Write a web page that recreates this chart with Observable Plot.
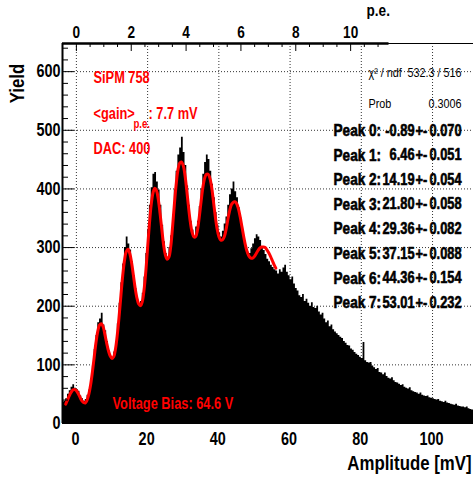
<!DOCTYPE html>
<html><head><meta charset="utf-8">
<script src="https://cdn.jsdelivr.net/npm/d3@7"></script>
<script src="https://cdn.jsdelivr.net/npm/@observablehq/plot@0.6"></script>
<style>html,body{margin:0;padding:0;background:#fff}</style>
</head><body><div id="chart"></div>
<script>
// ---- data ----
const binStart = -4.0, binWidth = 0.5;   // mV
const counts = [
 36,38,42,50,56,62,66,60,58,55,47,42,38,41,48,57,76,98,126,150,
 172,178,188,168,158,140,124,114,110,122,140,170,205,240,272,300,318,306,296,276,
 252,230,212,204,208,222,250,290,330,372,402,425,428,412,398,372,338,310,290,282,
 300,320,355,398,430,458,470,488,462,440,405,372,345,330,318,335,345,370,400,425,
 445,458,450,430,408,385,360,338,325,318,328,340,352,372,390,400,412,395,385,368,
 350,330,312,298,292,290,298,306,315,322,318,312,302,295,288,280,276,270,266,262,
 260,255,262,258,265,270,258,252,245,250,238,230,226,218,215,220,208,212,205,200,
 206,198,196,200,190,185,188,178,172,175,165,168,160,156,153,150,147,145,140,137,
 133,132,127,125,121,118,116,113,111,138,107,104,103,104,98,95,92,94,87,86,
 83,86,80,77,76,78,73,70,69,67,65,66,62,60,59,61,56,54,53,52,
 50,52,48,47,46,47,44,43,42,41,40,41,38,37,36,38,35,34,33,32,
 31,33,30,29,28,28,27,28,25,24,23,22
];
const fitStart = -3.0, fitStep = 0.5;    // mV
const fitValues = [
 33,40,47,53,57,58,56,51,45,39,36,35,40,50,66,88,113,138,157,168,
 170,165,152,137,124,115,111,114,128,152,183,218,252,278,293,297,290,274,253,231,
 214,204,201,208,228,260,300,340,373,393,401,397,382,358,330,304,287,280,284,302,
 335,373,407,432,444,446,440,423,397,368,343,326,318,319,330,352,378,402,418,425,
 425,418,402,378,353,332,319,313,313,318,330,347,362,373,377,378,375,366,352,335,
 318,303,292,285,282,282,285,290,295,299,301,301,300,296,291,285,278,271,265
];
const xDomain = [-3.9, 111.5];
const yDomain = [0, 648];
const xTicks = [0, 20, 40, 60, 80, 100];
const yTicks = [0, 100, 200, 300, 400, 500, 600];
const yMinor = [20,40,60,80,120,140,160,180,220,240,260,280,320,340,360,380,420,440,460,480,520,540,560,580,620,640];
const gain = 7.7; // mV per p.e.
const peMajor = [0, 2, 4, 6, 8, 10];
const peMinor = [0.5,1,1.5,2.5,3,3.5,4.5,5,5.5,6.5,7,7.5,8.5,9,9.5,10.5,11];
const peAxisEnd = 11.4;
const peakLabels = ["Peak 0:", "Peak 1:", "Peak 2:", "Peak 3:", "Peak 4:", "Peak 5:", "Peak 6:", "Peak 7:"];
const peakValues = ["-0.89", "6.46", "14.19", "21.80", "29.36", "37.15", "44.36", "53.01"];
const peakErrors = ["0.070", "0.051", "0.054", "0.058", "0.082", "0.088", "0.154", "0.232"];
const chi2Text = "532.3 / 516";
const probText = "0.3006";

// ---- derived tables ----
const hist = counts.map((c, i) => ({x: binStart + i * binWidth, y: c}));
hist.push({x: binStart + counts.length * binWidth, y: counts[counts.length - 1]});
const fit = fitValues.map((v, i) => ({x: fitStart + i * fitStep, y: v}));

const FONT = '"Liberation Sans", Arial, Helvetica, sans-serif';
const W = 473, H = 485, ML = 62, MR = 0, MT = 43, MB = 62;
const FW = W - ML - MR, FH = H - MT - MB;
const bold = {fontFamily: FONT, fontWeight: "bold"};

const red = "#ff0000";
const redText = (s, dx, dy, size = 16) => Plot.text([s], {frameAnchor: "top-left", dx, dy, textAnchor: "start", lineAnchor: "middle", fill: red, fontSize: size, ...bold});

const marks = [
  // grid
  Plot.ruleX(xTicks, {x: d => d, stroke: "#000", strokeWidth: 1, strokeDasharray: "1,2", strokeOpacity: 0.8}),
  Plot.ruleY(yTicks.filter(d => d > 0), {y: d => d, stroke: "#000", strokeWidth: 1, strokeDasharray: "1,2", strokeOpacity: 0.8}),
  // histogram
  Plot.areaY(hist, {x: "x", y: "y", curve: "step-after", fill: "#000", clip: true}),
  // fit
  Plot.line(fit, {x: "x", y: "y", stroke: red, strokeWidth: 3, curve: "catmull-rom", clip: true}),
  // frame lines
  Plot.ruleY([yDomain[1]], {stroke: "#000", strokeWidth: 1.2}),
  Plot.ruleY([yDomain[1]], {x1: xDomain[0], x2: peAxisEnd * gain, stroke: "#000", strokeWidth: 2.5}),
  Plot.ruleX([xDomain[0]], {stroke: "#000", strokeWidth: 2}),
  Plot.ruleY([0], {stroke: "#000", strokeWidth: 1}),
  // left ticks (inside)
  Plot.tickY(yTicks, {y: d => d, insetRight: FW - 12, stroke: "#000", strokeWidth: 1}),
  Plot.tickY(yMinor, {y: d => d, insetRight: FW - 6, stroke: "#000", strokeWidth: 1}),
  // top p.e. ticks (inside)
  Plot.tickX(peMajor, {x: d => d * gain, insetBottom: FH - 8, stroke: "#000", strokeWidth: 1}),
  Plot.tickX(peMinor, {x: d => d * gain, insetBottom: FH - 4, stroke: "#000", strokeWidth: 1}),
  // tick labels
  Plot.text(xTicks, {x: d => d, text: d => String(d), frameAnchor: "bottom", dy: 16, dx: -1, lineAnchor: "middle", fill: "#000", fontSize: 18, ...bold}),
  Plot.text(yTicks, {y: d => d, text: d => String(d), frameAnchor: "left", dx: -2, textAnchor: "end", lineAnchor: "middle", fill: "#000", fontSize: 18, ...bold}),
  Plot.text(peMajor, {x: d => d * gain, text: d => String(d), frameAnchor: "top", dy: -10.5, lineAnchor: "middle", fill: "#000", fontSize: 17, ...bold}),
  // axis titles
  Plot.text(["p.e."], {frameAnchor: "top-left", dx: 304, dy: -33, textAnchor: "start", lineAnchor: "middle", fill: "#000", fontSize: 17, ...bold}),
  Plot.text(["Amplitude [mV]"], {frameAnchor: "bottom-right", dx: -2, dy: 40, textAnchor: "end", lineAnchor: "middle", fill: "#000", fontSize: 21, ...bold}),
  Plot.text(["Yield"], {frameAnchor: "top-left", dx: -45, dy: 40, rotate: -90, textAnchor: "middle", lineAnchor: "middle", fill: "#000", fontSize: 21, ...bold}),
  // red annotations
  redText("SiPM 758", 31, 34),
  redText("<gain>", 31, 70),
  redText("p.e.", 71, 81, 12),
  redText(": 7.7 mV", 86, 70),
  redText("DAC: 400", 31, 105),
  redText("Voltage Bias: 64.6 V", 50, 360),
  // stats box
  Plot.text(["\u03c7\u00b2 / ndf"], {frameAnchor: "top-left", dx: 306, dy: 29, textAnchor: "start", lineAnchor: "middle", fill: "#000", fontSize: 13.5, fontFamily: FONT}),
  Plot.text([chi2Text], {frameAnchor: "top-left", dx: 399, dy: 29, textAnchor: "end", lineAnchor: "middle", fill: "#000", fontSize: 13.5, fontFamily: FONT}),
  Plot.text(["Prob"], {frameAnchor: "top-left", dx: 306, dy: 60, textAnchor: "start", lineAnchor: "middle", fill: "#000", fontSize: 13.5, fontFamily: FONT}),
  Plot.text([probText], {frameAnchor: "top-left", dx: 399, dy: 60, textAnchor: "end", lineAnchor: "middle", fill: "#000", fontSize: 13.5, fontFamily: FONT}),
  ...peakLabels.flatMap((lab, i) => {
    const dy = 87 + i * 24.6;
    const o = {frameAnchor: "top-left", dy, lineAnchor: "middle", fill: "#000", stroke: "#000", strokeWidth: 0.6, fontSize: 17, ...bold};
    return [
      Plot.text([lab], {...o, dx: 271, textAnchor: "start"}),
      Plot.text([peakValues[i]], {...o, fontSize: 16, dx: 352, textAnchor: "end"}),
      Plot.text(["+-"], {...o, fontSize: 16, dx: 353, textAnchor: "start"}),
      Plot.text([peakErrors[i]], {...o, fontSize: 16, dx: 399, textAnchor: "end"})
    ];
  })
];

const chart = Plot.plot({
  width: W, height: H,
  marginLeft: ML, marginRight: MR, marginTop: MT, marginBottom: MB,
  x: {domain: xDomain, axis: null},
  y: {domain: yDomain, axis: null},
  style: {background: "#fff", overflow: "visible"},
  marks
});
document.getElementById("chart").appendChild(chart);

// Condense all texts horizontally (the reference uses a narrow Helvetica-like face)
const CONDENSE = 0.8;
chart.querySelectorAll("text").forEach(t => {
  const len = t.getComputedTextLength();
  if (len > 0) {
    t.setAttribute("textLength", (len * CONDENSE).toFixed(2));
    t.setAttribute("lengthAdjust", "spacingAndGlyphs");
  }
});
</script>
</body></html>
